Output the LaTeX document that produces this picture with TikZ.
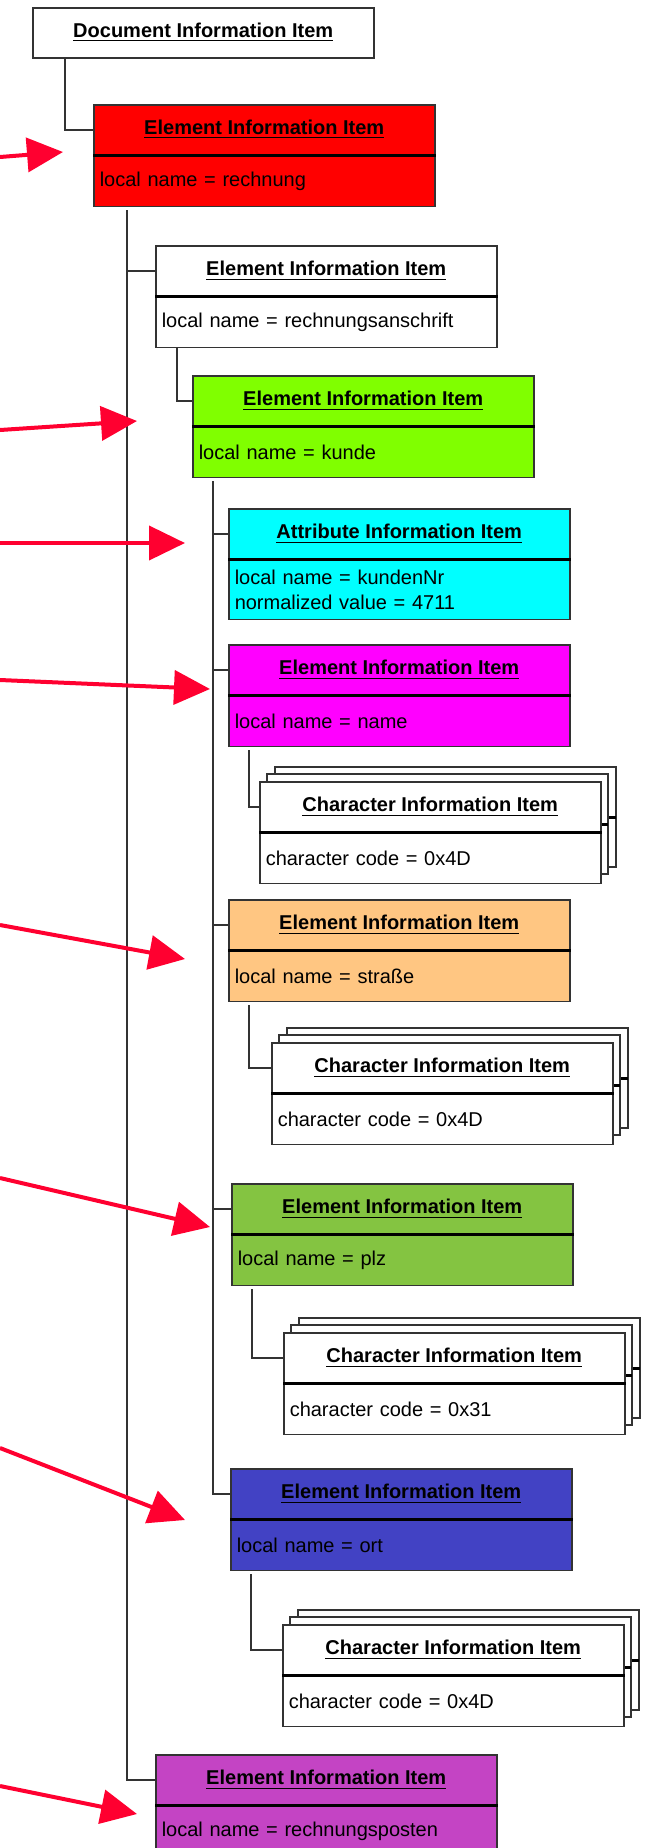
\documentclass[tikz,border=0pt]{standalone}
\usepackage{fontspec}
\setmainfont{Liberation Sans}
\usepackage{tikz}
\usetikzlibrary{arrows.meta}
\definecolor{edge}{HTML}{333333}
\definecolor{hintred}{HTML}{FF0030}
\definecolor{rechred}{HTML}{FF0000}
\definecolor{kundegreen}{HTML}{80FF00}
\definecolor{attrcyan}{HTML}{00FFFF}
\definecolor{namepink}{HTML}{FF00FF}
\definecolor{strorange}{HTML}{FFC682}
\definecolor{plzgreen}{HTML}{84C441}
\definecolor{ortblue}{HTML}{4242C4}
\definecolor{postpurple}{HTML}{C444C4}
\tikzset{
  head/.style={draw=edge,line width=0.75pt,fill=#1,anchor=north west,minimum width=170.5pt,minimum height=25pt,inner sep=0pt,font=\fontsize{10}{12}\selectfont\bfseries},
  body/.style={draw=edge,line width=0.75pt,fill=#1,anchor=north,minimum width=170.5pt,minimum height=25pt,inner xsep=3pt,inner ysep=2pt,text width=164.5pt,align=left,font=\fontsize{10}{12.5}\selectfont},
  divider/.style={black,line width=1.5pt},
  tree/.style={draw=edge,line width=0.75pt},
  ghost/.style={draw=edge,line width=0.75pt,fill=white},
  hint/.style={-{Triangle[length=18pt,width=17pt]},hintred,line width=2pt},
}
\newcommand\hd[1]{\underline{#1}}
\newcommand\infobox[7][]{%
  \node[head=#5] (#2) at (#3,#4) {\hd{#6}};
  \node[body=#5,#1] (#2-b) at (#2.south) {#7};
  \draw[divider] (#2.south west) -- (#2.south east);}
\newcommand\charstack[4]{%
  \foreach \k in {2,1}{
    \draw[ghost] (#2+8*\k,#3-7*\k) rectangle ++(341,100);
    \draw[divider] (#2+8*\k,#3+50-7*\k) -- ++(341,0);
  }
  \infobox{#1}{#2}{#3}{white}{Character Information Item}{character code = #4}}

\begin{document}
\begin{tikzpicture}[x=0.5pt,y=-0.5pt]
\useasboundingbox (0,0) rectangle (651,1848);
\node[head=white] (doc) at (32,7) {\hd{Document Information Item}};
\infobox{rech}{93}{104}{rechred}{Element Information Item}{local name = rechnung}
\infobox{ansch}{155}{245}{white}{Element Information Item}{local name = rechnungsanschrift}
\infobox{kunde}{192}{375}{kundegreen}{Element Information Item}{local name = kunde}
\infobox[minimum height=29.5pt]{attr}{228}{508}{attrcyan}{Attribute Information Item}{local name = kundenNr\\normalized value = 4711}
\infobox{name}{228}{644}{namepink}{Element Information Item}{local name = name}
\charstack{namechar}{259}{781}{0x4D}
\infobox{strasse}{228}{899}{strorange}{Element Information Item}{local name = straße}
\charstack{strchar}{271}{1042}{0x4D}
\infobox{plz}{231}{1183}{plzgreen}{Element Information Item}{local name = plz}
\charstack{plzchar}{283}{1332}{0x31}
\infobox{ort}{230}{1468}{ortblue}{Element Information Item}{local name = ort}
\charstack{ortchar}{282}{1624}{0x4D}
\infobox{post}{155}{1754}{postpurple}{Element Information Item}{local name = rechnungsposten}

\draw[tree] ([xshift=16.5pt]doc.south west) |- (rech.west);
\foreach \c in {ansch,post}
  \draw[tree] ([xshift=17pt,yshift=-1.5pt]rech-b.south west) |- (\c.west);
\draw[tree] ([xshift=11pt]ansch-b.south west) |- (kunde.west);
\foreach \c in {attr,name,strasse,plz,ort}
  \draw[tree] ([xshift=10.5pt,yshift=-1.5pt]kunde-b.south west) |- (\c.west);
\foreach \p/\c in {name/namechar,strasse/strchar,plz/plzchar,ort/ortchar}
  \draw[tree] ([xshift=10.5pt,yshift=-1.5pt]\p-b.south west) |- (\c.west);

\foreach \n/\ya/\xb/\yb in {1/157/63/152,2/430/137/421,3/543/185/543,4/680/210/689,5/925/185/959,6/1178/210/1227,7/1448/185/1520,8/1786/137/1814}{
  \coordinate (from\n) at (0,\ya);
  \coordinate (to\n) at (\xb,\yb);
  \draw[hint] (from\n) -- (to\n);
}
\end{tikzpicture}
\end{document}
